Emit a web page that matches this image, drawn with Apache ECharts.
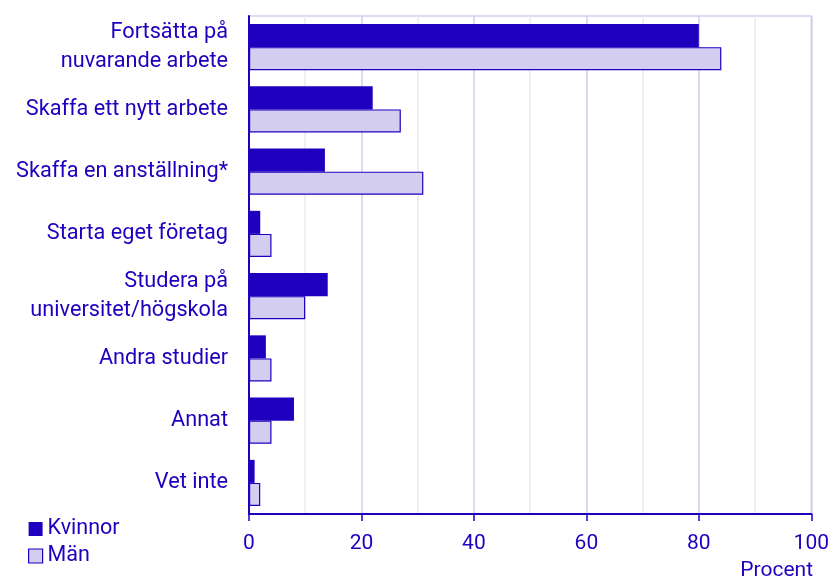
<!DOCTYPE html>
<html><head><meta charset="utf-8">
<script src="https://cdn.jsdelivr.net/npm/echarts@6/dist/echarts.min.js"></script>
<style>html,body{margin:0;padding:0;background:#fff}#c{width:832px;height:578px}</style>
</head><body><div id="c"></div>
<script>
const categories = ["Fortsätta på\nnuvarande arbete","Skaffa ett nytt arbete","Skaffa en anställning*","Starta eget företag","Studera på\nuniversitet/högskola","Andra studier","Annat","Vet inte"];
const kvinnor = [80, 22, 13.5, 2, 14, 3, 8, 1];
const man = [84, 27, 31, 4, 10, 4, 4, 2];
const xTicks = [0, 20, 40, 60, 80, 100];
const blue = '#1E00BE';
const lav = '#D3CEF0';
const chart = echarts.init(document.getElementById('c'));
chart.setOption({
  animation: false,
  textStyle: {fontFamily: 'Roboto'},
  grid: {left: 249, right: 18, top: 16, bottom: 64, show: true, borderColor: lav, borderWidth: 1.5},
  legend: {
    orient: 'vertical', left: 28, top: 518, padding: 0, itemWidth: 14, itemHeight: 14, itemGap: 5,
    icon: 'rect',
    textStyle: {color: blue, fontSize: 21.5},
    data: [{name: 'Kvinnor'}, {name: 'Män', itemStyle: {color: lav, borderColor: blue, borderWidth: 1.2}}]
  },
  xAxis: {
    type: 'value', min: 0, max: 100, interval: 20,
    axisLine: {show: true, lineStyle: {color: blue, width: 2}},
    axisTick: {show: true, length: 7, lineStyle: {color: blue, width: 1.5}},
    axisLabel: {color: blue, fontSize: 21, margin: 19, formatter: v => xTicks.includes(v) ? String(v) : ''},
    splitLine: {show: true, lineStyle: {color: lav, width: 1.5}},
    minorTick: {show: false, splitNumber: 2},
    minorSplitLine: {show: true, lineStyle: {color: '#EBEBEB', width: 1.5}}
  },
  yAxis: {
    type: 'category', data: categories, inverse: true,
    axisLine: {show: true, lineStyle: {color: blue, width: 2}},
    axisTick: {show: false},
    axisLabel: {color: blue, fontSize: 21.7, margin: 21, lineHeight: 29, align: 'right'}
  },
  graphic: [{type: 'text', right: 19, top: 560, style: {text: 'Procent', fill: blue, font: '21px Roboto'}}],
  series: [
    {name: 'Kvinnor', type: 'bar', data: kvinnor, barGap: '0%', barCategoryGap: '26%',
     itemStyle: {color: blue}},
    {name: 'Män', type: 'bar', data: man,
     itemStyle: {color: lav, borderColor: blue, borderWidth: 1.2}}
  ]
});
</script></body></html>
